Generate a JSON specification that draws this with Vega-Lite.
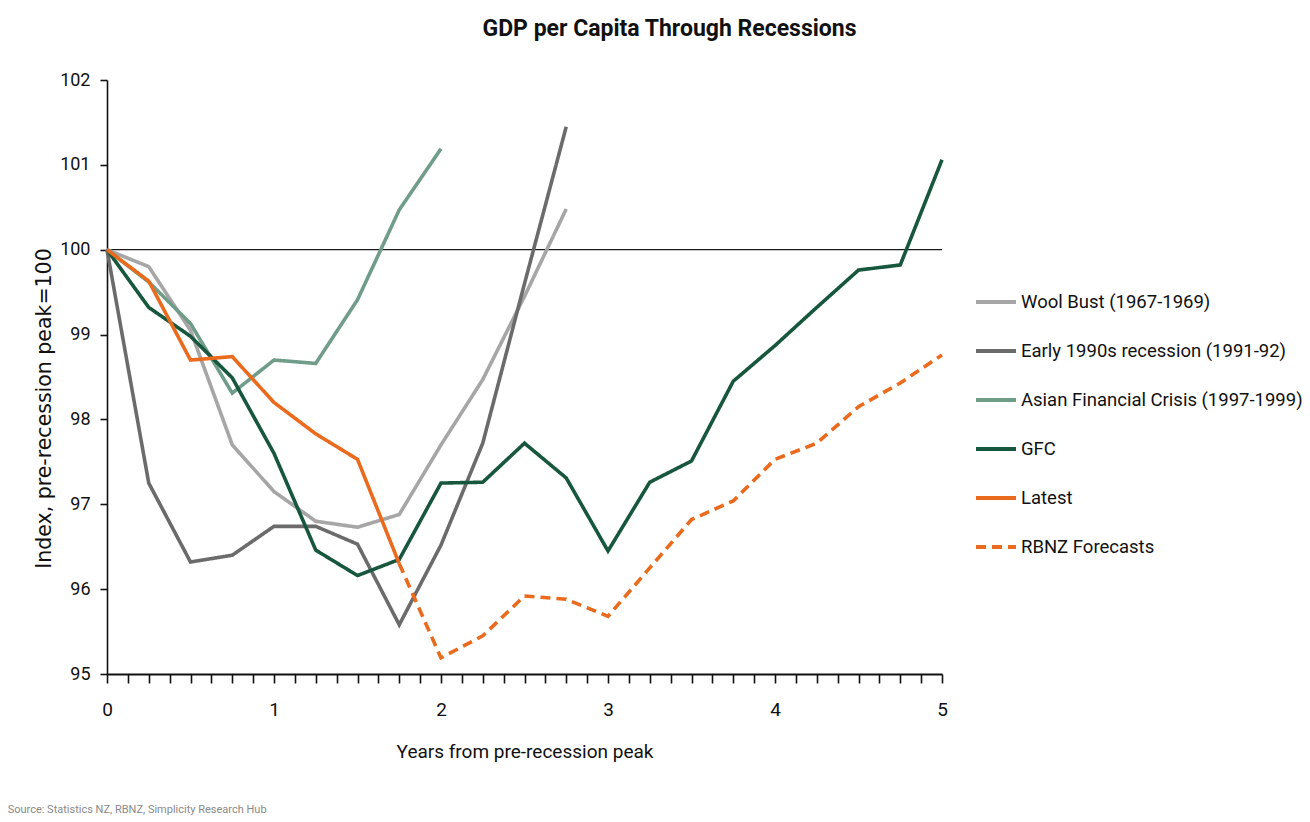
{
  "$schema": "https://vega.github.io/schema/vega-lite/v6.json",
  "width": 835,
  "height": 594,
  "autosize": {"type": "none"},
  "padding": {"left": 107, "top": 80, "right": 368, "bottom": 148},
  "background": "white",
  "config": {
    "view": {"stroke": null},
    "font": "Roboto"
  },
  "title": {
    "text": "GDP per Capita Through Recessions",
    "font": "Roboto",
    "fontSize": 23,
    "fontWeight": "bold",
    "color": "#111111",
    "anchor": "middle",
    "frame": "group",
    "dx": 145,
    "offset": 30
  },
  "datasets": {
    "series": [
      {"series": "Wool Bust (1967-1969)", "year": 0, "value": 100},
      {"series": "Wool Bust (1967-1969)", "year": 0.25, "value": 99.8},
      {"series": "Wool Bust (1967-1969)", "year": 0.5, "value": 99.05},
      {"series": "Wool Bust (1967-1969)", "year": 0.75, "value": 97.7},
      {"series": "Wool Bust (1967-1969)", "year": 1, "value": 97.15},
      {"series": "Wool Bust (1967-1969)", "year": 1.25, "value": 96.8},
      {"series": "Wool Bust (1967-1969)", "year": 1.5, "value": 96.73},
      {"series": "Wool Bust (1967-1969)", "year": 1.75, "value": 96.88},
      {"series": "Wool Bust (1967-1969)", "year": 2, "value": 97.7},
      {"series": "Wool Bust (1967-1969)", "year": 2.25, "value": 98.47},
      {"series": "Wool Bust (1967-1969)", "year": 2.5, "value": 99.45},
      {"series": "Wool Bust (1967-1969)", "year": 2.75, "value": 100.48},
      {"series": "Early 1990s recession (1991-92)", "year": 0, "value": 100},
      {"series": "Early 1990s recession (1991-92)", "year": 0.25, "value": 97.25},
      {"series": "Early 1990s recession (1991-92)", "year": 0.5, "value": 96.32},
      {"series": "Early 1990s recession (1991-92)", "year": 0.75, "value": 96.4},
      {"series": "Early 1990s recession (1991-92)", "year": 1, "value": 96.74},
      {"series": "Early 1990s recession (1991-92)", "year": 1.25, "value": 96.74},
      {"series": "Early 1990s recession (1991-92)", "year": 1.5, "value": 96.53},
      {"series": "Early 1990s recession (1991-92)", "year": 1.75, "value": 95.58},
      {"series": "Early 1990s recession (1991-92)", "year": 2, "value": 96.52},
      {"series": "Early 1990s recession (1991-92)", "year": 2.25, "value": 97.72},
      {"series": "Early 1990s recession (1991-92)", "year": 2.5, "value": 99.6},
      {"series": "Early 1990s recession (1991-92)", "year": 2.75, "value": 101.45},
      {"series": "Asian Financial Crisis (1997-1999)", "year": 0, "value": 100},
      {"series": "Asian Financial Crisis (1997-1999)", "year": 0.25, "value": 99.62},
      {"series": "Asian Financial Crisis (1997-1999)", "year": 0.5, "value": 99.13},
      {"series": "Asian Financial Crisis (1997-1999)", "year": 0.75, "value": 98.31},
      {"series": "Asian Financial Crisis (1997-1999)", "year": 1, "value": 98.7},
      {"series": "Asian Financial Crisis (1997-1999)", "year": 1.25, "value": 98.66},
      {"series": "Asian Financial Crisis (1997-1999)", "year": 1.5, "value": 99.41},
      {"series": "Asian Financial Crisis (1997-1999)", "year": 1.75, "value": 100.47},
      {"series": "Asian Financial Crisis (1997-1999)", "year": 2, "value": 101.19},
      {"series": "GFC", "year": 0, "value": 100},
      {"series": "GFC", "year": 0.25, "value": 99.32},
      {"series": "GFC", "year": 0.5, "value": 98.98},
      {"series": "GFC", "year": 0.75, "value": 98.49},
      {"series": "GFC", "year": 1, "value": 97.6},
      {"series": "GFC", "year": 1.25, "value": 96.46},
      {"series": "GFC", "year": 1.5, "value": 96.16},
      {"series": "GFC", "year": 1.75, "value": 96.35},
      {"series": "GFC", "year": 2, "value": 97.25},
      {"series": "GFC", "year": 2.25, "value": 97.26},
      {"series": "GFC", "year": 2.5, "value": 97.72},
      {"series": "GFC", "year": 2.75, "value": 97.31},
      {"series": "GFC", "year": 3, "value": 96.45},
      {"series": "GFC", "year": 3.25, "value": 97.26},
      {"series": "GFC", "year": 3.5, "value": 97.51},
      {"series": "GFC", "year": 3.75, "value": 98.45},
      {"series": "GFC", "year": 4, "value": 98.87},
      {"series": "GFC", "year": 4.25, "value": 99.32},
      {"series": "GFC", "year": 4.5, "value": 99.76},
      {"series": "GFC", "year": 4.75, "value": 99.82},
      {"series": "GFC", "year": 5, "value": 101.06},
      {"series": "Latest", "year": 0, "value": 100},
      {"series": "Latest", "year": 0.25, "value": 99.63},
      {"series": "Latest", "year": 0.5, "value": 98.7},
      {"series": "Latest", "year": 0.75, "value": 98.74},
      {"series": "Latest", "year": 1, "value": 98.2},
      {"series": "Latest", "year": 1.25, "value": 97.83},
      {"series": "Latest", "year": 1.5, "value": 97.53},
      {"series": "Latest", "year": 1.75, "value": 96.3},
      {"series": "RBNZ Forecasts", "year": 1.75, "value": 96.3},
      {"series": "RBNZ Forecasts", "year": 2, "value": 95.19},
      {"series": "RBNZ Forecasts", "year": 2.25, "value": 95.45},
      {"series": "RBNZ Forecasts", "year": 2.5, "value": 95.92},
      {"series": "RBNZ Forecasts", "year": 2.75, "value": 95.88},
      {"series": "RBNZ Forecasts", "year": 3, "value": 95.68},
      {"series": "RBNZ Forecasts", "year": 3.25, "value": 96.25},
      {"series": "RBNZ Forecasts", "year": 3.5, "value": 96.82},
      {"series": "RBNZ Forecasts", "year": 3.75, "value": 97.04},
      {"series": "RBNZ Forecasts", "year": 4, "value": 97.53},
      {"series": "RBNZ Forecasts", "year": 4.25, "value": 97.72},
      {"series": "RBNZ Forecasts", "year": 4.5, "value": 98.15},
      {"series": "RBNZ Forecasts", "year": 4.75, "value": 98.43},
      {"series": "RBNZ Forecasts", "year": 5, "value": 98.76}
    ],
    "baseline": [{"ref": 100}],
    "source": [{"note": "Source: Statistics NZ, RBNZ, Simplicity Research Hub"}]
  },
  "layer": [
    {
      "data": {"name": "baseline"},
      "mark": {"type": "rule", "color": "#1a1a1a", "strokeWidth": 1.3},
      "encoding": {
        "y": {"field": "ref", "type": "quantitative", "scale": {"domain": [95, 102], "nice": false, "zero": false}}
      }
    },
    {
      "data": {"name": "series"},
      "mark": {"type": "line", "strokeWidth": 3.6, "strokeJoin": "miter", "strokeCap": "butt"},
      "encoding": {
        "x": {
          "field": "year",
          "type": "quantitative",
          "scale": {"domain": [0, 5], "nice": false, "zero": false},
          "axis": {
            "title": "Years from pre-recession peak",
            "titleFont": "Roboto",
            "titleFontSize": 19,
            "titleFontWeight": "normal",
            "titleColor": "#111111",
            "titlePadding": 23,
            "values": [0, 0.125, 0.25, 0.375, 0.5, 0.625, 0.75, 0.875, 1, 1.125, 1.25, 1.375, 1.5, 1.625, 1.75, 1.875, 2, 2.125, 2.25, 2.375, 2.5, 2.625, 2.75, 2.875, 3, 3.125, 3.25, 3.375, 3.5, 3.625, 3.75, 3.875, 4, 4.125, 4.25, 4.375, 4.5, 4.625, 4.75, 4.875, 5],
            "tickCount": 100,
            "labelExpr": "datum.value % 1 == 0 ? format(datum.value, 'd') : ''",
            "labelOverlap": false,
            "labelFlush": false,
            "labelFont": "Roboto",
            "labelFontSize": 19,
            "labelColor": "#111111",
            "labelPadding": 17,
            "grid": false,
            "domainColor": "#111111",
            "domainWidth": 2,
            "tickColor": "#111111",
            "tickWidth": 1.6,
            "tickSize": 9,
            "encode": {
              "ticks": {
                "y": {"condition": {"test": "round(datum.value * 8) % 2 == 0", "value": -9}, "value": -5},
                "y2": {"condition": {"test": "round(datum.value * 8) % 2 == 0", "value": 9}, "value": 0}
              }
            }
          }
        },
        "y": {
          "field": "value",
          "type": "quantitative",
          "scale": {"domain": [95, 102], "nice": false, "zero": false},
          "axis": {
            "title": "Index, pre-recession peak=100",
            "titleFont": "DejaVu Sans",
            "titleFontSize": 20.5,
            "titleFontWeight": "normal",
            "titleColor": "#111111",
            "titlePadding": 5,
            "titleY": 328,
            "values": [95, 96, 97, 98, 99, 100, 101, 102],
            "tickCount": 20,
            "format": "d",
            "labelFont": "Roboto",
            "labelFontSize": 18,
            "labelColor": "#111111",
            "labelPadding": 10,
            "grid": false,
            "domainColor": "#111111",
            "domainWidth": 1.6,
            "tickColor": "#111111",
            "tickWidth": 1.6,
            "tickSize": 7,
            "encode": {
              "ticks": {
                "x": {"value": 0},
                "x2": {"value": 7}
              }
            }
          }
        },
        "color": {
          "field": "series",
          "type": "nominal",
          "scale": {
            "domain": ["Wool Bust (1967-1969)", "Early 1990s recession (1991-92)", "Asian Financial Crisis (1997-1999)", "GFC", "Latest", "RBNZ Forecasts"],
            "range": ["#a6a6a6", "#6b6b6b", "#6f9d89", "#17573d", "#ea6a1e", "#ea6a1e"]
          },
          "legend": {
            "title": null,
            "orient": "none",
            "legendX": 867,
            "legendY": 200,
            "symbolType": "stroke",
            "symbolSize": 1600,
            "symbolStrokeWidth": 4,
            "labelFont": "Roboto",
            "labelFontSize": 18.5,
            "labelColor": "#111111",
            "labelOffset": 3,
            "rowPadding": 17,
            "labelLimit": 400
          }
        },
        "strokeDash": {
          "field": "series",
          "type": "nominal",
          "scale": {
            "domain": ["Wool Bust (1967-1969)", "Early 1990s recession (1991-92)", "Asian Financial Crisis (1997-1999)", "GFC", "Latest", "RBNZ Forecasts"],
            "range": [[1, 0], [1, 0], [1, 0], [1, 0], [1, 0], [10, 6]]
          },
          "legend": {
            "title": null,
            "orient": "none",
            "legendX": 867,
            "legendY": 200,
            "symbolType": "stroke",
            "symbolSize": 1600,
            "symbolStrokeWidth": 4,
            "labelFont": "Roboto",
            "labelFontSize": 18.5,
            "labelColor": "#111111",
            "labelOffset": 3,
            "rowPadding": 17,
            "labelLimit": 400
          }
        }
      }
    },
    {
      "data": {"name": "source"},
      "mark": {"type": "text", "align": "left", "baseline": "middle", "fontSize": 11, "color": "#8a8a8a", "font": "Roboto"},
      "encoding": {
        "x": {"datum": -0.595, "type": "quantitative"},
        "y": {"datum": 93.4, "type": "quantitative"},
        "text": {"field": "note", "type": "nominal"}
      }
    }
  ]
}
